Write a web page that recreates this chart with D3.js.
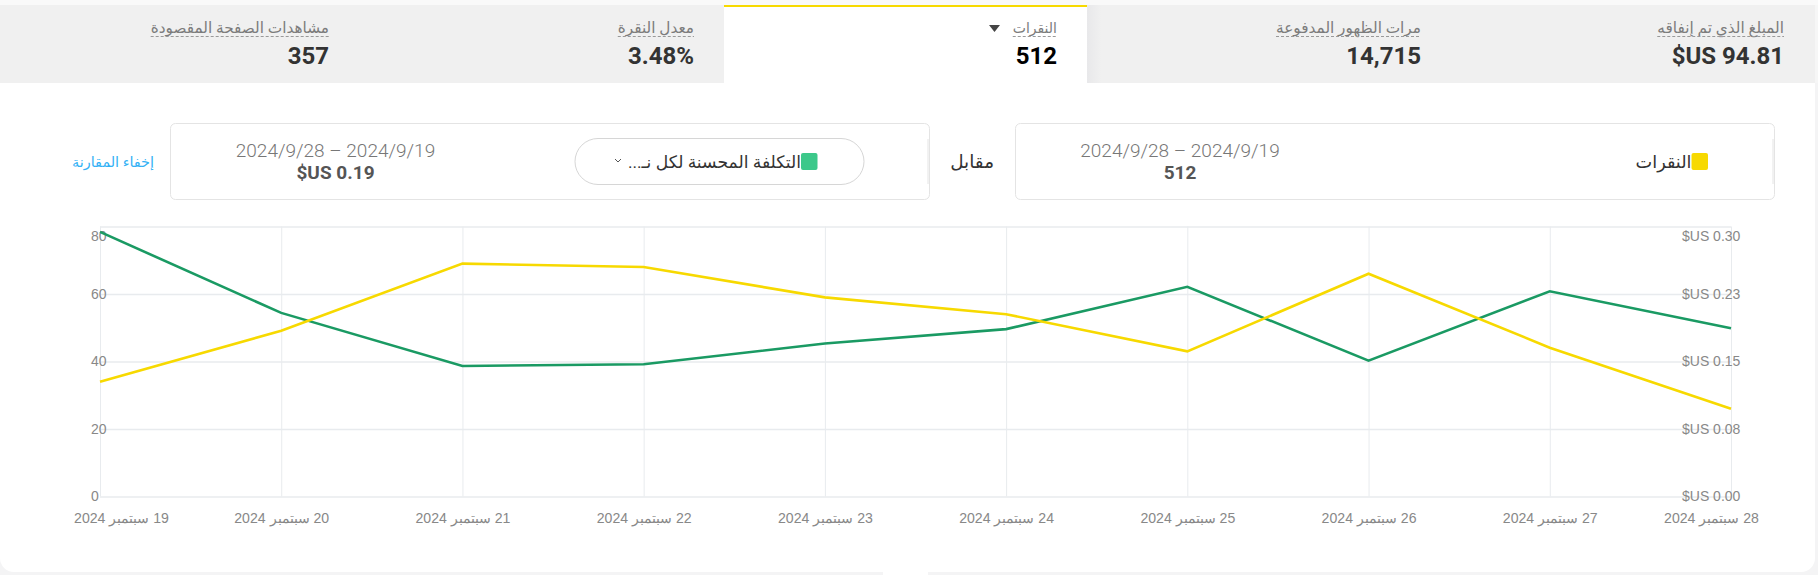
<!DOCTYPE html>
<html lang="ar">
<head>
<meta charset="utf-8">
<title>النقرات</title>
<script src="https://cdn.jsdelivr.net/npm/d3@7/dist/d3.min.js"></script>
<style>
  html, body { margin: 0; padding: 0; background: #f4f4f5; overflow: hidden; }
  svg { display: block; font-family: Roboto, "Noto Sans", "DejaVu Sans", sans-serif; }
  .ltick text { fill: #888; font-size: 14px; }
  .domain { display: none; }
</style>
</head>
<body>
<div id="chart"></div>
<script>
// chart data
const categories = ["19 سبتمبر 2024", "20 سبتمبر 2024", "21 سبتمبر 2024", "22 سبتمبر 2024", "23 سبتمبر 2024",
  "24 سبتمبر 2024", "25 سبتمبر 2024", "26 سبتمبر 2024", "27 سبتمبر 2024", "28 سبتمبر 2024"];
const clicks = [34, 49.1, 69, 68, 59, 54, 43, 66, 44.1, 26];
const costPerClick = [0.294, 0.204, 0.145, 0.147, 0.17, 0.186, 0.233, 0.151, 0.228, 0.187];
const clickTicks = [0, 20, 40, 60, 80];
const costTicks = [0, 0.075, 0.15, 0.225, 0.3];
const tabLabels = ["مشاهدات الصفحة المقصودة", "معدل النقرة", "النقرات", "مرات الظهور المدفوعة", "المبلغ الذي تم إنفاقه"];
const tabValues = ["357", "3.48%", "512", "14,715", "$US 94.81"];
const tabRightEdges = [329, 694, 1057, 1421, 1784];
const selectedTab = 2;

const width = 1818, height = 575;
const yellow = "#f7d900", green = "#1a9a63";

const svg = d3.select("#chart").append("svg")
  .attr("width", width)
  .attr("height", height);

const shade = svg.append("defs").append("linearGradient").attr("id", "tab-shade");
shade.append("stop").attr("offset", 0).attr("stop-color", "#e8e8ea");
shade.append("stop").attr("offset", 1).attr("stop-color", "#f0f0f0");

// white card and the gray tab strip
svg.append("rect").attr("x", 0).attr("y", -20).attr("width", 1815).attr("height", 592)
  .attr("rx", 14).attr("fill", "#fff");
svg.append("rect").attr("x", 883).attr("y", 570).attr("width", 45).attr("height", 5).attr("fill", "#fff");
svg.append("rect").attr("x", 0).attr("y", 0).attr("width", width).attr("height", 5).attr("fill", "#f9f9f9");
svg.append("rect").attr("x", 0).attr("y", 5).attr("width", 1815).attr("height", 78).attr("fill", "#f0f0f0");
svg.append("rect").attr("x", 1815).attr("y", 5).attr("width", 3).attr("height", 78).attr("fill", "#f6f6f6");
svg.append("rect").attr("x", 1087).attr("y", 5).attr("width", 14).attr("height", 78).attr("fill", "url(#tab-shade)");
svg.append("rect").attr("x", 724).attr("y", 5).attr("width", 363).attr("height", 78).attr("fill", "#fff");
svg.append("rect").attr("x", 724).attr("y", 5).attr("width", 363).attr("height", 2).attr("fill", yellow);

const tabs = svg.selectAll("g.tab")
  .data(tabLabels)
  .enter()
  .append("g")
  .attr("class", "tab");

tabs.append("text")
  .attr("x", (d, i) => tabRightEdges[i])
  .attr("y", 33)
  .attr("direction", "rtl")
  .attr("text-anchor", "start")
  .attr("font-size", (d, i) => i === selectedTab ? 14 : 15.3)
  .attr("fill", "#7c7c7c")
  .text(d => d)
  .each(function() {
    const box = this.getBBox();
    d3.select(this.parentNode).append("line")
      .attr("x1", box.x).attr("x2", box.x + box.width)
      .attr("y1", 36.5).attr("y2", 36.5)
      .attr("stroke", "#999")
      .attr("stroke-dasharray", "3 2");
  });

tabs.append("text")
  .attr("x", (d, i) => tabRightEdges[i])
  .attr("y", 64)
  .attr("text-anchor", "end")
  .attr("font-size", 24)
  .attr("font-weight", 700)
  .attr("fill", (d, i) => i === selectedTab ? "#000" : "#333")
  .text((d, i) => tabValues[i]);

svg.append("path")
  .attr("d", "M989,25L1000,25L994.5,32Z")
  .attr("fill", "#444");

// compare cards
const cards = [
  { x: 170, w: 760, swatch: 801, color: "#3cc88a", name: "التكلفة المحسنة لكل نـ...", nameSize: 17.2, center: 335.5, total: "$US 0.19" },
  { x: 1015, w: 760, swatch: 1691.5, color: yellow, name: "النقرات", nameSize: 17.7, center: 1180, total: "512" }
];

cards.forEach(c => {
  svg.append("rect").attr("x", c.x + 0.5).attr("y", 123.5).attr("width", c.w - 1).attr("height", 76)
    .attr("rx", 5).attr("fill", "#fff").attr("stroke", "#e4e4e4");
  svg.append("line").attr("x1", c.x + c.w - 2).attr("x2", c.x + c.w - 2).attr("y1", 139).attr("y2", 184)
    .attr("stroke", "#e4e4e4");
  if (c.x === 170) {
    svg.append("rect").attr("x", 575).attr("y", 138.5).attr("width", 289).attr("height", 46)
      .attr("rx", 23).attr("fill", "#fff").attr("stroke", "#d6d6d6");
    svg.append("path").attr("d", "M615,159L618,162L621,159").attr("fill", "none").attr("stroke", "#555");
  }
  svg.append("rect").attr("x", c.swatch).attr("y", 153).attr("width", 16.5).attr("height", 17)
    .attr("rx", 2).attr("fill", c.color);
  svg.append("text").attr("x", c.swatch).attr("y", 168)
    .attr("direction", "rtl").attr("text-anchor", "start")
    .attr("font-size", c.nameSize).attr("fill", "#333").text(c.name);
  svg.append("text").attr("x", c.center).attr("y", 156.5)
    .attr("direction", "rtl").attr("text-anchor", "middle")
    .attr("font-size", 19).attr("font-weight", 300).attr("fill", "#777").text("2024/9/19 – 2024/9/28");
  svg.append("text").attr("x", c.center).attr("y", 179)
    .attr("text-anchor", "middle")
    .attr("font-size", 19).attr("font-weight", 700).attr("fill", "#555").text(c.total);
});

svg.append("text").attr("x", 994).attr("y", 168)
  .attr("direction", "rtl").attr("text-anchor", "start")
  .attr("font-size", 18.4).attr("fill", "#333").text("مقابل");
svg.append("text").attr("x", 154).attr("y", 167)
  .attr("direction", "rtl").attr("text-anchor", "start")
  .attr("font-size", 14.4).attr("fill", "#33b1f5").text("إخفاء المقارنة");

// line chart
const margin = { left: 100, right: 87, top: 226.5, bottom: 78.5 };
const plotW = width - margin.left - margin.right;
const plotH = height - margin.top - margin.bottom;

const x = d3.scalePoint().domain(categories).range([0, plotW]);
const yClicks = d3.scaleLinear().domain([0, 80]).range([plotH, 0]);
const yCost = d3.scaleLinear().domain([0, 0.3]).range([plotH, 0]);

const plot = svg.append("g").attr("transform", `translate(${margin.left},${margin.top})`);

const xAxis = plot.append("g")
  .attr("class", "ltick")
  .attr("transform", `translate(0,${plotH})`)
  .call(d3.axisBottom(x).tickSize(-plotH).tickPadding(16));
xAxis.selectAll("line").attr("stroke", "#e8ebee");
xAxis.selectAll("text")
  .attr("direction", "rtl")
  .style("font-size", "14.1px")
  .attr("dx", (d, i) => i === 0 ? 21 : i === categories.length - 1 ? -20 : 0);

const yAxis = plot.append("g")
  .attr("class", "ltick")
  .call(d3.axisLeft(yClicks).tickValues(clickTicks).tickSize(-plotW).tickPadding(0));
yAxis.selectAll("line").attr("stroke", "#e8ebee").attr("stroke-width", 1.6);
yAxis.selectAll("text")
  .attr("x", -9)
  .attr("text-anchor", "start")
  .attr("dy", d => d === 80 ? "1em" : "0.32em");

const yAxisRight = plot.append("g")
  .attr("class", "ltick")
  .attr("transform", `translate(${plotW},0)`)
  .call(d3.axisRight(yCost).tickValues(costTicks).tickSize(0)
    .tickFormat(d => "$US " + d3.format(".2f")(d + 1e-9)));
yAxisRight.selectAll("text")
  .attr("x", -49)
  .attr("text-anchor", "start")
  .attr("dy", d => d === 0.3 ? "1em" : "0.32em");

const clicksLine = d3.line().x((d, i) => x(categories[i])).y(d => yClicks(d));
const costLine = d3.line().x((d, i) => x(categories[i])).y(d => yCost(d));

plot.append("path").datum(costPerClick)
  .attr("d", costLine).attr("fill", "none").attr("stroke", green).attr("stroke-width", 2.6);
plot.append("path").datum(clicks)
  .attr("d", clicksLine).attr("fill", "none").attr("stroke", yellow).attr("stroke-width", 2.6);
</script>
</body>
</html>
